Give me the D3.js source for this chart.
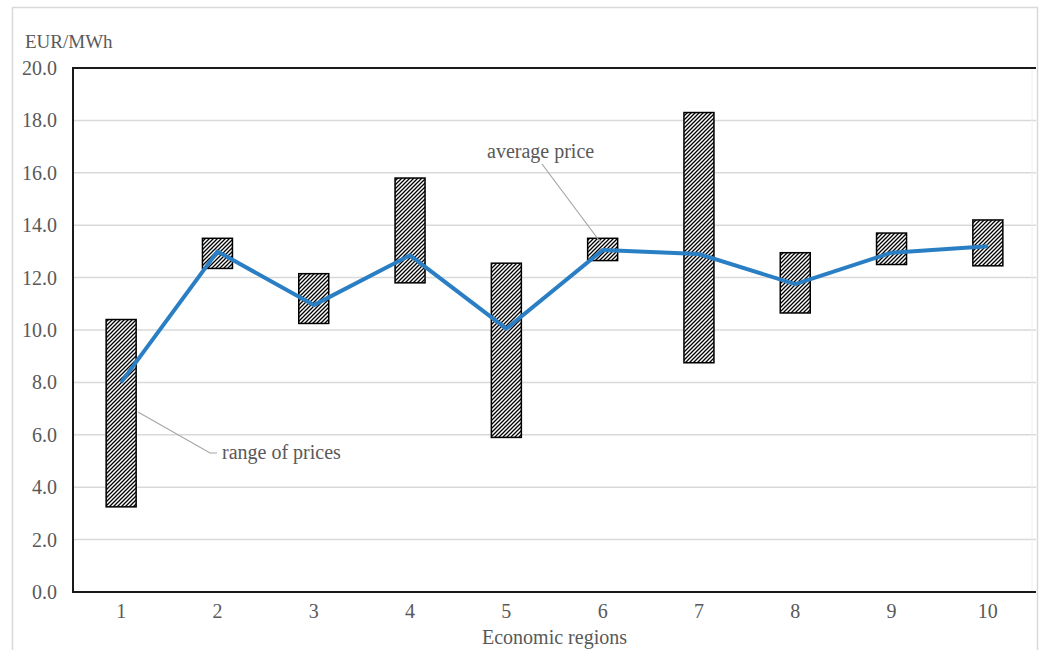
<!DOCTYPE html>
<html>
<head>
<meta charset="utf-8">
<script src="https://cdn.jsdelivr.net/npm/d3@7"></script>
<style>
  body { margin: 0; background: #fff; }
  svg text { font-family: "Liberation Serif", "Times New Roman", serif; fill: #595959; }
</style>
</head>
<body>
<div id="chart"></div>
<script>
// Economic regions and price ranges (EUR/MWh)
const regions = ['1', '2', '3', '4', '5', '6', '7', '8', '9', '10'];
const rangeMin = [3.25, 12.35, 10.25, 11.8, 5.9, 12.65, 8.75, 10.65, 12.5, 12.45];
const rangeMax = [10.4, 13.5, 12.15, 15.8, 12.55, 13.5, 18.3, 12.95, 13.7, 14.2];
const avgPrice = [8.0, 13.0, 10.95, 12.85, 10.05, 13.05, 12.9, 11.75, 12.95, 13.2];
const yTicks = [0, 2, 4, 6, 8, 10, 12, 14, 16, 18, 20];

const width = 1041;
const height = 650;
const margin = { top: 68, right: 5, bottom: 58, left: 73 };

const svg = d3.select('#chart')
    .append('svg')
    .attr('width', width)
    .attr('height', height);

// hatch pattern for the range bars
const defs = svg.append('defs');
const pat = defs.append('pattern')
    .attr('id', 'hatch')
    .attr('patternUnits', 'userSpaceOnUse')
    .attr('width', 4)
    .attr('height', 4);
pat.append('rect').attr('width', 4).attr('height', 4).attr('fill', '#fff');
pat.append('path')
    .attr('d', 'M-1,1 l2,-2 M0,4 l4,-4 M3,5 l2,-2')
    .attr('stroke', '#000')
    .attr('stroke-width', 1.3);

// outer border
svg.append('rect')
    .attr('x', 12.5)
    .attr('y', 7.5)
    .attr('width', 1025)
    .attr('height', 660)
    .attr('fill', 'none')
    .attr('stroke', '#d9d9d9')
    .attr('stroke-width', 1.5);

const x = d3.scaleBand()
    .domain(regions)
    .range([margin.left, width - margin.right]);

const y = d3.scaleLinear()
    .domain([0, 20])
    .range([height - margin.bottom, margin.top]);

// gridlines
svg.append('g')
    .selectAll('line')
    .data(yTicks.filter(d => d > 0 && d < 20))
    .enter().append('line')
    .attr('x1', margin.left)
    .attr('x2', width - margin.right)
    .attr('y1', d => y(d))
    .attr('y2', d => y(d))
    .attr('stroke', '#d9d9d9')
    .attr('stroke-width', 1.5);

// faint right edge
svg.append('line')
    .attr('x1', width - margin.right - 4)
    .attr('x2', width - margin.right - 4)
    .attr('y1', y(20))
    .attr('y2', y(0))
    .attr('stroke', '#f0f0f0')
    .attr('stroke-width', 1);

// y axis
const yAxis = svg.append('g')
    .attr('transform', `translate(${margin.left},0)`)
    .call(d3.axisLeft(y).tickValues(yTicks).tickFormat(d3.format('.1f')).tickSize(0).tickPadding(16));
yAxis.select('.domain').remove();
yAxis.selectAll('text')
    .style('font-size', '20px')
    .style('font-family', '"Liberation Serif", serif')
    .style('fill', '#595959');

// x axis
const xAxis = svg.append('g')
    .attr('transform', `translate(0,${y(0)})`)
    .call(d3.axisBottom(x).tickSize(0).tickPadding(12));
xAxis.select('.domain').remove();
xAxis.selectAll('text')
    .style('font-size', '20px')
    .style('font-family', '"Liberation Serif", serif')
    .style('fill', '#595959');

// frame: top, left, bottom
svg.append('path')
    .attr('d', `M${width - margin.right},${y(20)} H${margin.left} V${y(0)} H${width - margin.right}`)
    .attr('fill', 'none')
    .attr('stroke', '#1a1a1a')
    .attr('stroke-width', 2);

// range bars
const barW = 30;
svg.append('g')
    .selectAll('rect')
    .data(regions)
    .enter().append('rect')
    .attr('x', d => x(d) + x.bandwidth() / 2 - barW / 2)
    .attr('y', (d, i) => y(rangeMax[i]))
    .attr('width', barW)
    .attr('height', (d, i) => y(rangeMin[i]) - y(rangeMax[i]))
    .attr('fill', 'url(#hatch)')
    .attr('stroke', '#000')
    .attr('stroke-width', 1.5);

// average price line
const line = d3.line()
    .x((d, i) => x(regions[i]) + x.bandwidth() / 2)
    .y(d => y(d));
svg.append('path')
    .datum(avgPrice)
    .attr('d', line)
    .attr('fill', 'none')
    .attr('stroke', '#2a7fc4')
    .attr('stroke-width', 4)
    .attr('stroke-linejoin', 'round');

// annotations
svg.append('line')
    .attr('x1', 542).attr('y1', 164)
    .attr('x2', 601).attr('y2', 243)
    .attr('stroke', '#a6a6a6').attr('stroke-width', 1.2);
svg.append('text')
    .attr('x', 487).attr('y', 158)
    .style('font-size', '20px')
    .text('average price');

svg.append('polyline')
    .attr('points', '138,412 210,453 217,453')
    .attr('fill', 'none')
    .attr('stroke', '#a6a6a6').attr('stroke-width', 1.2);
svg.append('text')
    .attr('x', 222).attr('y', 459)
    .style('font-size', '20px')
    .text('range of prices');

// axis titles
svg.append('text')
    .attr('x', 25).attr('y', 48)
    .style('font-size', '19px')
    .text('EUR/MWh');

svg.append('text')
    .attr('x', (margin.left + width - margin.right) / 2)
    .attr('y', 644)
    .attr('text-anchor', 'middle')
    .style('font-size', '20px')
    .text('Economic regions');
</script>
</body>
</html>
